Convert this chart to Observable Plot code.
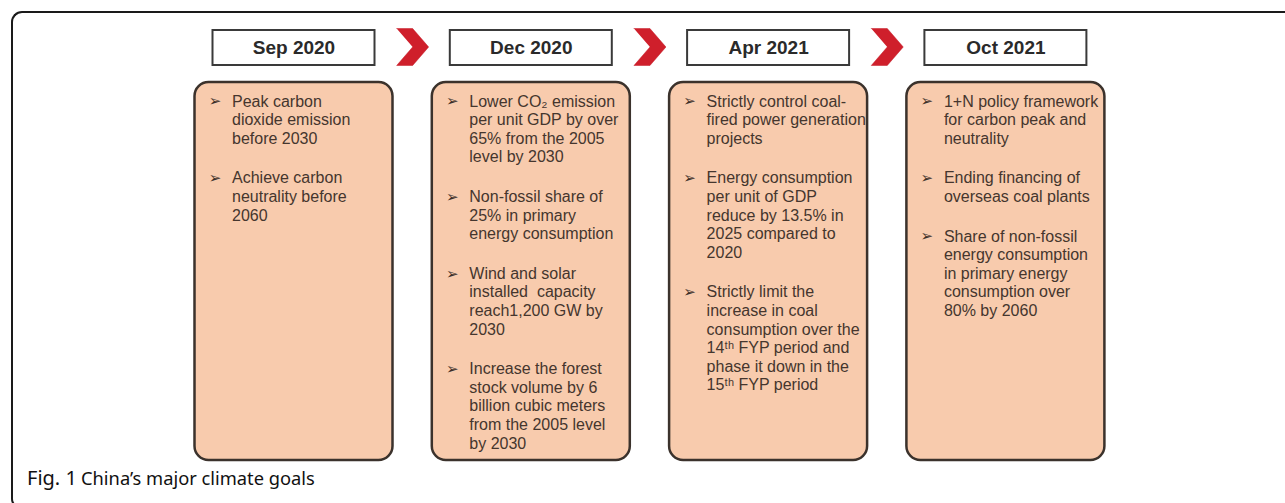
<!DOCTYPE html>
<html>
<head>
<meta charset="utf-8">
<script src="https://cdn.jsdelivr.net/npm/d3@7"></script>
<script src="https://cdn.jsdelivr.net/npm/@observablehq/plot@0.6"></script>
<style>
  html, body { margin: 0; padding: 0; background: #fff; }
  body { width: 1285px; height: 503px; overflow: hidden; position: relative; }
  #chart { position: absolute; left: 0; top: 0; }
  #frame { position: absolute; left: 11px; top: 11px; width: 1400px; height: 493px;
           border-top: 2px solid #1a1a1a; border-left: 2px solid #1a1a1a; border-bottom: 2px solid #1a1a1a;
           border-radius: 11px 0 0 9px; pointer-events: none; }
  #caption { position: absolute; left: 27px; top: 468px; line-height: 20px; white-space: nowrap;
             font-family: "Noto Sans", sans-serif; color: #111; }
  #caption .fig { font-size: 20px; }
  #caption .txt { font-size: 18.3px; }
</style>
</head>
<body>
<div id="chart"></div>
<div id="frame"></div>
<div id="caption"><span class="fig">Fig. 1</span> <span class="txt">China’s major climate goals</span></div>
<script>
// ---------- data ----------
const dates = ["Sep 2020", "Dec 2020", "Apr 2021", "Oct 2021"];
const goalsSep2020 = [
  "Peak carbon\ndioxide emission\nbefore 2030",
  "Achieve carbon\nneutrality before\n2060"
];
const goalsDec2020 = [
  "Lower CO₂ emission\nper unit GDP by over\n65% from the 2005\nlevel by 2030",
  "Non-fossil share of\n25% in primary\nenergy consumption",
  "Wind and solar\ninstalled  capacity\nreach1,200 GW by\n2030",
  "Increase the forest\nstock volume by 6\nbillion cubic meters\nfrom the 2005 level\nby 2030"
];
const goalsApr2021 = [
  "Strictly control coal-\nfired power generation\nprojects",
  "Energy consumption\nper unit of GDP\nreduce by 13.5% in\n2025 compared to\n2020",
  "Strictly limit the\nincrease in coal\nconsumption over the\n14ᵗʰ FYP period and\nphase it down in the\n15ᵗʰ FYP period"
];
const goalsOct2021 = [
  "1+N policy framework\nfor carbon peak and\nneutrality",
  "Ending financing of\noverseas coal plants",
  "Share of non-fossil\nenergy consumption\nin primary energy\nconsumption over\n80% by 2060"
];
const goals = [goalsSep2020, goalsDec2020, goalsApr2021, goalsOct2021];

// ---------- layout ----------
const W = 1285, H = 503;
const step = 237.3;          // px between column centres
const firstCenter = 293.5;   // px of first column centre
const u = px => px / step;   // px -> column units
const header = {y1: 30, y2: 65, half: u(81)};
const box = {y1: 82, y2: 460, half: u(99)};
const chev = {y1: 28, y2: 65, half: u(16)};
const firstLine = 101, lineH = 18.6, bulletGap = 21;

// derived tables
const headerRows = dates.map((d, i) => ({i, d, x1: i - header.half, x2: i + header.half}));
const boxRows = dates.map((d, i) => ({i, x1: i - box.half, x2: i + box.half}));
const chevPts = [];
for (let g = 0; g < dates.length - 1; g++) {
  const c = g + 0.5, ym = (chev.y1 + chev.y2) / 2;
  [[c - chev.half, chev.y1], [c, chev.y1], [c + chev.half, ym], [c, chev.y2], [c - chev.half, chev.y2], [c, ym]]
    .forEach(([x, y]) => chevPts.push({g, x, y}));
}
const lineRows = [], bulletRows = [];
goals.forEach((list, i) => {
  let y = firstLine;
  list.forEach((b) => {
    const ls = b.split("\n");
    bulletRows.push({i, y});
    ls.forEach(t => { lineRows.push({i, y, t}); y += lineH; });
    y += bulletGap;
  });
});

const plot = Plot.plot({
  width: W, height: H,
  margin: 0,
  style: {background: "transparent", overflow: "visible"},
  x: {domain: [-u(firstCenter), u(W - firstCenter)], range: [0, W], axis: null},
  y: {domain: [0, H], range: [0, H], axis: null},
  marks: [
    Plot.line(chevPts, {x: "x", y: "y", z: "g", fill: "#cf1f2b", stroke: "#c41a26", strokeWidth: 0.5}),
    Plot.rect(headerRows, {x1: "x1", x2: "x2", y1: header.y1, y2: header.y2, fill: "#fff", stroke: "#3a3a3a", strokeWidth: 2}),
    Plot.text(headerRows, {x: "i", y: (header.y1 + header.y2) / 2, text: "d", fontWeight: "bold", fontSize: 19,
      fontFamily: "Liberation Sans, Arial, sans-serif", fill: "#2a2a2a"}),
    Plot.rect(boxRows, {x1: "x1", x2: "x2", y1: box.y1, y2: box.y2, rx: 14, fill: "#F8CBAD", stroke: "#3b322c", strokeWidth: 2.5}),
    Plot.text(bulletRows, {x: "i", y: "y", text: () => "➢", dx: -79, fontSize: 15, fill: "#3b2e27",
      fontFamily: "DejaVu Sans, sans-serif"}),
    Plot.text(lineRows, {x: "i", y: "y", text: "t", dx: -62, textAnchor: "start", fontSize: 16,
      fontFamily: "Liberation Sans, Arial, sans-serif", fill: "#45362e"})
  ]
});
document.getElementById("chart").appendChild(plot);
</script>
</body>
</html>
